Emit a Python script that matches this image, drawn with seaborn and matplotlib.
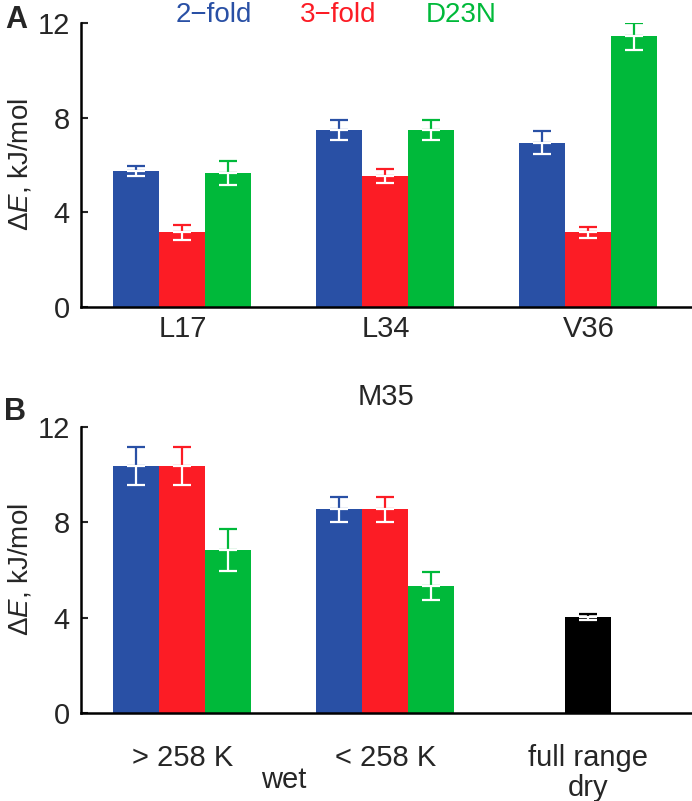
import numpy as np
import pandas as pd
import matplotlib
matplotlib.use("Agg")
import matplotlib.pyplot as plt
import seaborn as sns

# ---- data ----
variants = ["2\u2212fold", "3\u2212fold", "D23N"]
colors = ["#2950a5", "#fc1c25", "#00b93a"]

residues_a = ["L17", "L34", "V36"]
vals_a = {"2\u2212fold": [5.75, 7.48, 6.95],
          "3\u2212fold": [3.15, 5.55, 3.15],
          "D23N": [5.65, 7.48, 11.43]}
errs_a = {"2\u2212fold": [0.22, 0.41, 0.50],
          "3\u2212fold": [0.30, 0.29, 0.23],
          "D23N": [0.50, 0.41, 0.57]}

ranges_b = ["> 258 K", "< 258 K", "full range\ndry"]
wet_b = ["> 258 K", "< 258 K"]
vals_b = {"2\u2212fold": [10.37, 8.55],
          "3\u2212fold": [10.37, 8.55],
          "D23N": [6.84, 5.33]}
errs_b = {"2\u2212fold": [0.80, 0.53],
          "3\u2212fold": [0.80, 0.53],
          "D23N": [0.90, 0.60]}
dry_val = [4.02]
dry_err = [0.12]

yticks = [0, 4, 8, 12]

sns.set_style("white")
plt.rcParams["font.family"] = ["Liberation Sans Narrow", "Liberation Sans", "DejaVu Sans"]
plt.rcParams["mathtext.fontset"] = "custom"
plt.rcParams["mathtext.it"] = "Liberation Sans:italic"
plt.rcParams["mathtext.rm"] = "Liberation Sans"

FS = 21
W = 0.68


def long_df(cats, vals):
    rows = []
    for v in variants:
        for c, y in zip(cats, vals[v]):
            rows.append({"cat": c, "variant": v, "val": y})
    return pd.DataFrame(rows)


def split_errbar(ax, patch, err, col):
    x = patch.get_x() + patch.get_width() / 2
    h = patch.get_height()
    # part above the bar in bar colour, part inside the bar in white
    ax.errorbar([x], [h], yerr=[[0], [err]], fmt="none", ecolor=col,
                elinewidth=1.6, capsize=6.5, capthick=1.6, zorder=5)
    ax.errorbar([x], [h], yerr=[[err], [0]], fmt="none", ecolor="white",
                elinewidth=1.6, capsize=6.5, capthick=1.6, zorder=5)


def style_axes(ax):
    sns.despine(ax=ax, top=True, right=True)
    ax.spines["left"].set_bounds(0, 12)
    for s in ["left", "bottom"]:
        ax.spines[s].set_linewidth(1.8)
        ax.spines[s].set_color("black")
    ax.set_ylim(0, 12)
    ax.set_yticks(yticks)
    ax.tick_params(axis="y", direction="in", length=5, width=1.5,
                   labelsize=FS, left=True, pad=8)
    ax.tick_params(axis="x", length=0, labelsize=FS)
    ax.set_xlabel("")
    ax.set_ylabel(r"$\Delta \mathit{E}$, kJ/mol", fontsize=FS - 1, labelpad=3)
    ax.set_xlim(-0.5, 2.51)


fig = plt.figure(figsize=(6.92, 8.01), dpi=100)
ax_a = fig.add_axes([0.117, 0.6167, 0.883, 0.3546])
ax_b = fig.add_axes([0.117, 0.1099, 0.883, 0.357])

# ---- panel A ----
df_a = long_df(residues_a, vals_a)
sns.barplot(data=df_a, x="cat", y="val", hue="variant", order=residues_a,
            hue_order=variants, palette=colors, width=W, saturation=1,
            errorbar=None, legend=False, linewidth=0, ax=ax_a)
k = 0
for v, col in zip(variants, colors):
    for e in errs_a[v]:
        split_errbar(ax_a, ax_a.patches[k], e, col)
        k += 1
style_axes(ax_a)
ax_a.tick_params(axis="x", pad=6)

# coloured legend words above panel A
for v, col, xd in zip(variants, colors, [0.153, 0.768, 1.374]):
    ax_a.text(xd, 0.9975, v, color=col, fontsize=FS - 1, ha="center", va="top",
              transform=matplotlib.transforms.blended_transform_factory(
                  ax_a.transData, fig.transFigure), clip_on=False)

fig.text(0.008, 0.975, "A", fontsize=FS + 1, fontweight="bold",
         family=["Liberation Sans", "DejaVu Sans"], ha="left", va="center")

# ---- panel B ----
df_b = long_df(wet_b, vals_b)
sns.barplot(data=df_b, x="cat", y="val", hue="variant", order=ranges_b,
            hue_order=variants, palette=colors, width=W, saturation=1,
            errorbar=None, legend=False, linewidth=0, ax=ax_b)
k = 0
for v, col in zip(variants, colors):
    for e in errs_b[v]:
        split_errbar(ax_b, ax_b.patches[k], e, col)
        k += 1
n_before = len(ax_b.patches)
df_dry = pd.DataFrame({"cat": [ranges_b[2]], "val": dry_val})
sns.barplot(data=df_dry, x="cat", y="val", order=ranges_b, color="black",
            width=W / 3, saturation=1, errorbar=None, linewidth=0, ax=ax_b)
for p, e in zip(ax_b.patches[n_before:], dry_err):
    split_errbar(ax_b, p, e, "black")
style_axes(ax_b)
ax_b.tick_params(axis="x", pad=22)
for lbl in ax_b.get_xticklabels():
    lbl.set_linespacing(1.1)
ax_b.set_title("M35", fontsize=FS, pad=16)
ax_b.text(0.5, -0.235, "wet", fontsize=FS, ha="center", va="center",
          transform=ax_b.get_xaxis_transform())

fig.text(0.006, 0.486, "B", fontsize=FS + 1, fontweight="bold",
         family=["Liberation Sans", "DejaVu Sans"], ha="left", va="center")

fig.savefig("out.png", dpi=100)
